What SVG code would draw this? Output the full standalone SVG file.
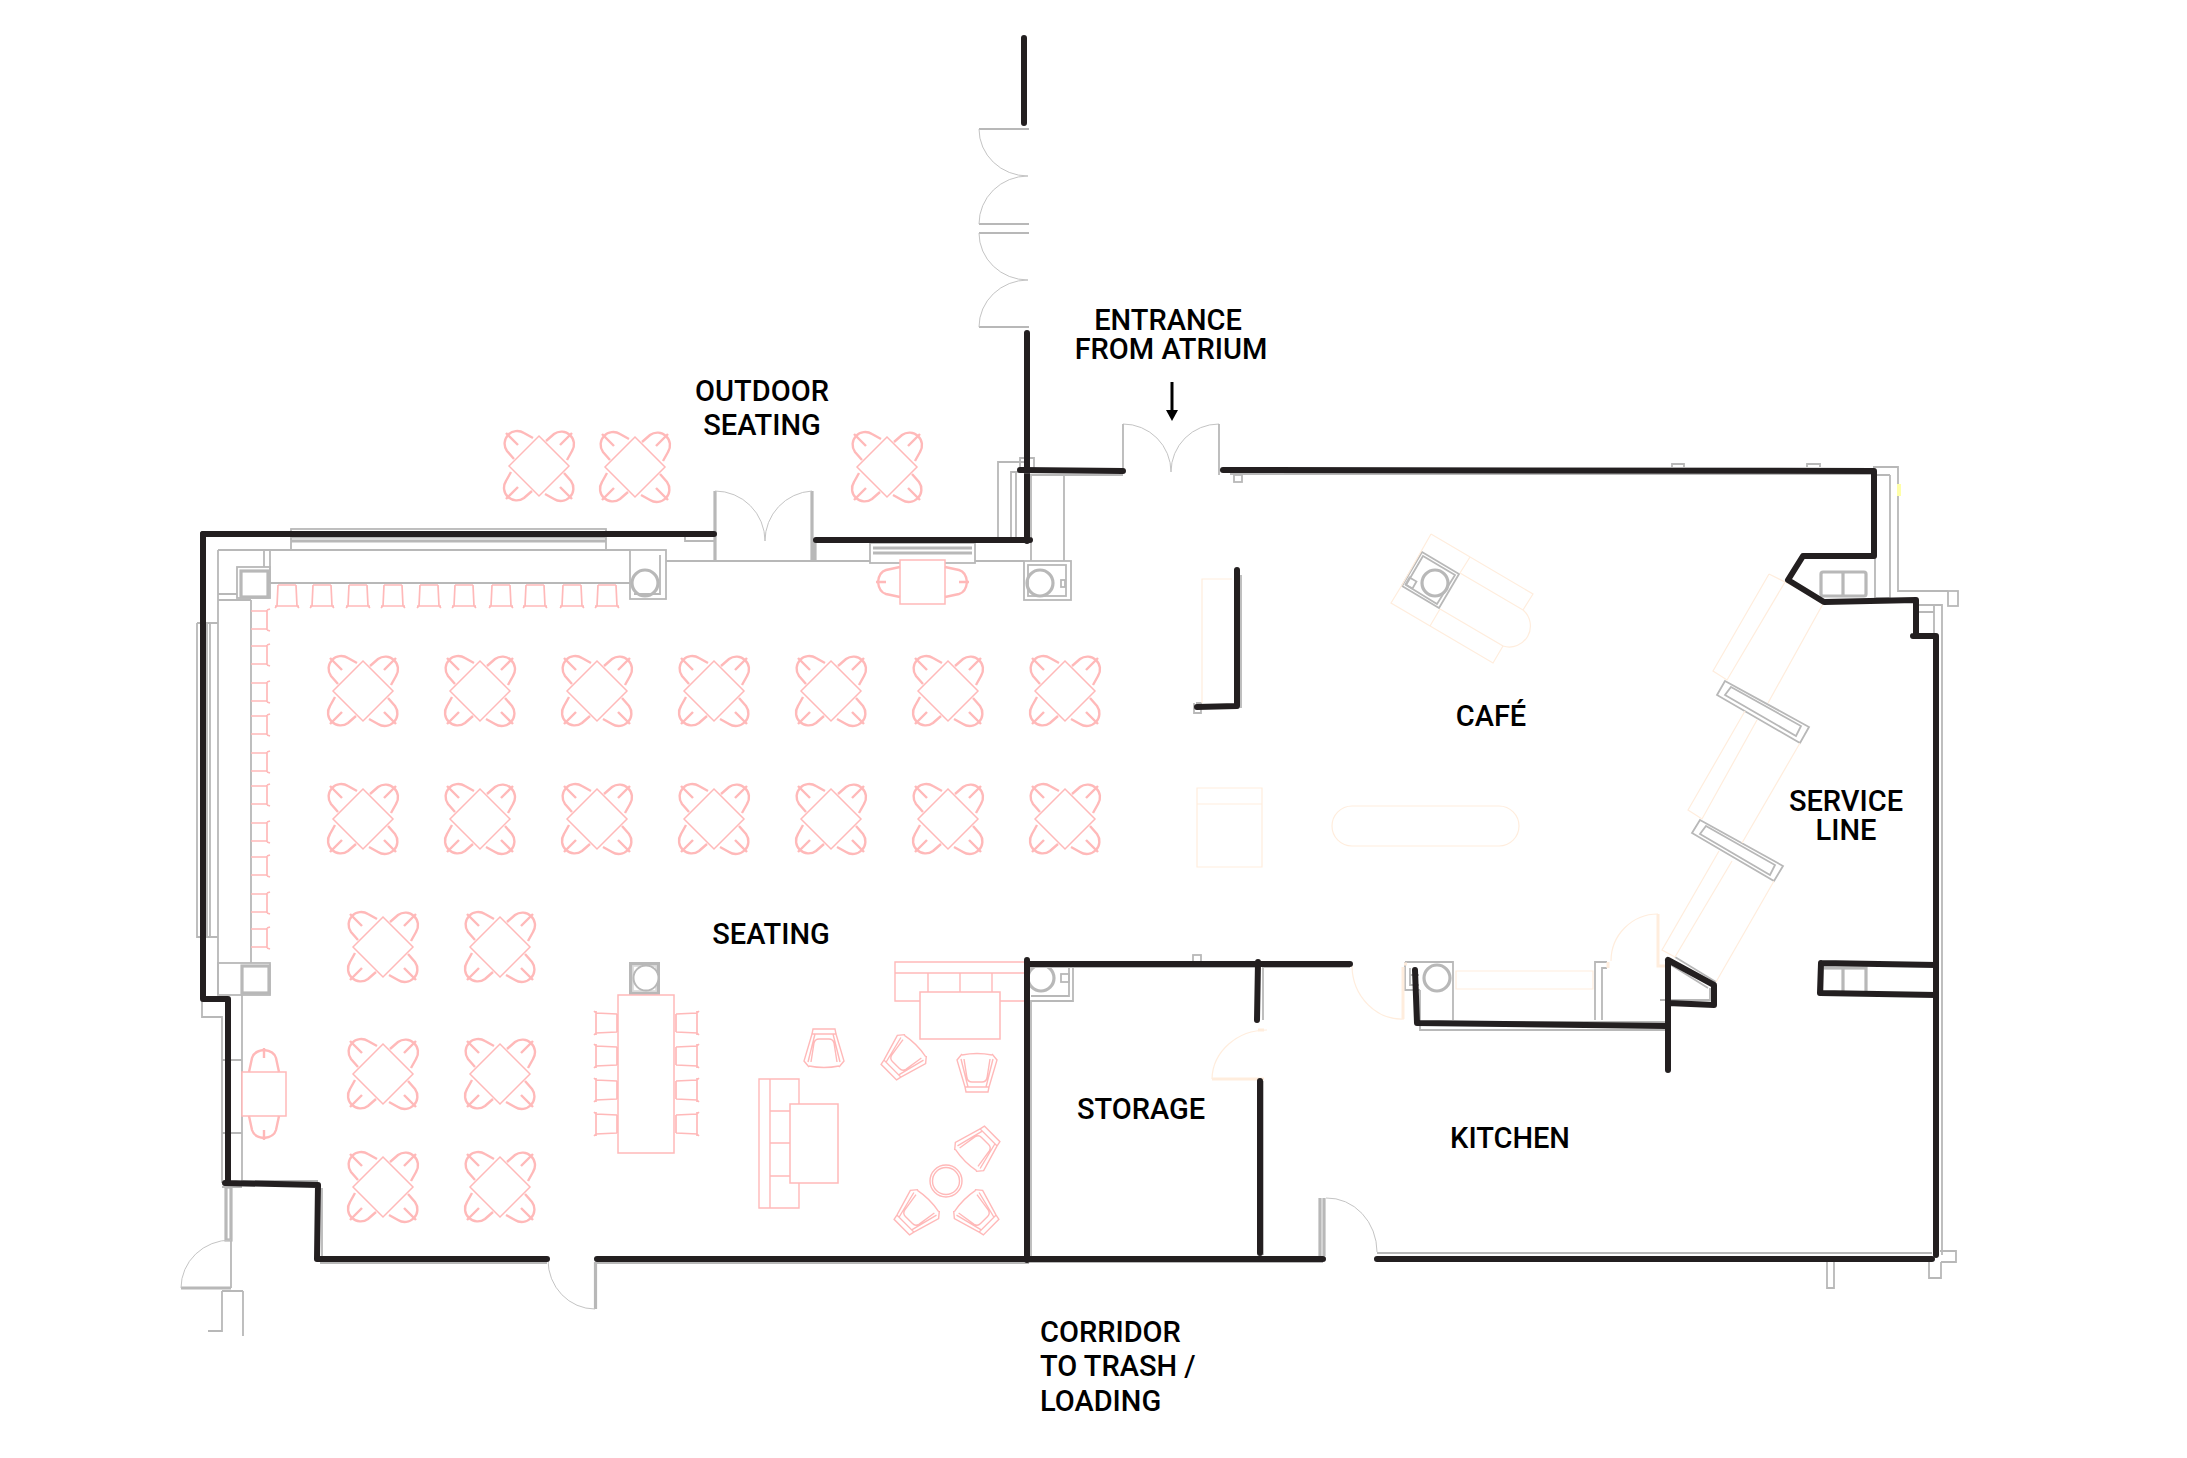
<svg xmlns="http://www.w3.org/2000/svg" xmlns:xlink="http://www.w3.org/1999/xlink" width="2187" height="1458" viewBox="0 0 2187 1458">
<style>
.w{fill:none;stroke:#231f20;stroke-width:6;stroke-linecap:round;stroke-linejoin:round}
.g{fill:none;stroke:#b8b8b8;stroke-width:1.8}
.gt{fill:none;stroke:#b8b8b8;stroke-width:3.2}
.gf{fill:#fff;stroke:#b8b8b8;stroke-width:1.8}
.a{fill:none;stroke:#c4c4c4;stroke-width:1}
.p{fill:none;stroke:#ffb9b9;stroke-width:1.4}
.pf{fill:#fff;stroke:#ffb9b9;stroke-width:1.5}
.pt{fill:none;stroke:#ffb9b9;stroke-width:2.4}
.ps{fill:none;stroke:#ffb9b9;stroke-width:1.7}
.o{fill:none;stroke:#ffeddd;stroke-width:1.2}
.ot{fill:none;stroke:#ffeddd;stroke-width:3}
text{font-family:Roboto,"Liberation Sans",sans-serif;font-weight:500;font-size:29px;fill:#000}
</style>
<defs>
<g id="q"><path class="pt" d="M-25,-7 L-32,-15 A12.600,12.600 0 0 1 -15,-33 L-6,-28"/><path class="pt" d="M-33,-33 L-21,-21"/></g>
<g id="t4"><use href="#q"/><use href="#q" transform="rotate(90)"/><use href="#q" transform="rotate(180)"/><use href="#q" transform="rotate(270)"/><path class="pf" d="M0,-30 L30,0 L0,30 L-30,0Z"/></g>
<g id="st"><path class="ps" d="M-9,-11 H9 M-12,10 H12 M-9,-11 L-10,10 L-12,12 M9,-11 L10,10 L12,12"/></g>
<g id="sl"><path class="ps" d="M-8,-9 H8 M-8,9 H8 M8,-10 V10 M8,-10 L11,-11 M8,10 L11,11"/></g>
<g id="sc"><path class="pt" d="M-15,0 L-12,-14 Q-10,-21 0,-22 Q10,-21 12,-14 L15,0 M0,-24 V-14"/></g>
<g id="ac"><path class="p" d="M-11,-20 H11 L12,-15 H-12Z M-12,-15 L-20,12 L-15,18 M12,-15 L20,12 L15,18 M-9,-15 L-16,13 M9,-15 L16,13 M-13,13 L-10,-6 Q-9,-10 -5,-10 H5 Q9,-10 10,-6 L13,13 M-15,17 Q0,20 15,17"/></g>
</defs>

<g id="plan-grey">
<rect class="g" x="291" y="529" width="315" height="21"/><path class="gt" d="M291,537 H606 M291,541 H606"/>
<path class="g" d="M218,550 H630 M218,550 V995 M264,550 V567 M270,550 V583 M270,583 H630 M251,600 V963 M218,594 H237 M218,600 H251 M197,623 H218 M197,623 V937 H218 M207,623 V937 M210,623 V937"/>
<rect class="g" x="237" y="567" width="33" height="31"/><rect class="gt" x="241" y="571" width="27" height="26"/>
<rect class="g" x="218" y="963" width="52" height="32"/><rect class="gt" x="242" y="966" width="27" height="27"/>
<path class="g" d="M202,999 V1017 H222 V1183 M242,995 V1183 M222,1060 H242 M222,1133 H242"/>
<rect class="gt" x="226" y="1187" width="5" height="53"/>
<path class="g" d="M231,1240 V1288 M222,1291 H243 M222,1291 V1331 H208 M243,1291 V1336"/><path class="gt" d="M181,1288 H231"/>
<path class="a" d="M231,1240 A50,48 0 0 0 181,1288"/>
<rect class="g" x="630" y="550" width="36" height="49"/><path class="g" d="M660,555 V594 H634"/><circle class="gt" cx="645" cy="583" r="13"/>
<path class="g" d="M666,561 H870 M975,561 H1024 M685,534 V541 H715"/>
<path class="gt" d="M715,491 V561 M812,491 V561 M815,541 V561"/>
<path class="a" d="M715,491 A50,50 0 0 1 765,541 A50,50 0 0 1 812,491"/>
<rect class="g" x="870" y="543" width="105" height="20"/><path class="gt" d="M873,548 H972 M873,553 H972"/>
<rect class="g" x="1024" y="561" width="47" height="39"/><rect class="g" x="1028" y="565" width="38" height="31"/><rect class="g" x="1061" y="580" width="4" height="7"/><circle class="gt" cx="1040" cy="583" r="13"/>
<path class="g" d="M1026,462 H998 V537 M1011,537 V472 H1026 M1016,537 V472 M1020,470 V458 H1034 V470 M1031,475 V561 M1064,475 V561 M1026,475 H1123"/>
<path class="a" d="M1123,424 A48,48 0 0 1 1171,472 A48,48 0 0 1 1219,424"/><path class="g" d="M1123,424 V470 M1219,424 V470 M1219,475 V470 H1240"/>
<rect class="g" x="1234" y="475" width="8" height="7"/>
<path class="g" d="M1230,474 H1873 M1672,467 V464 H1684 V467 M1807,467 V464 H1820 V467"/>
<path class="g" d="M979,129 H1029"/><path class="g" d="M979,224 H1029 M979,233 H1029 M979,327 H1029"/>
<path class="a" d="M979,129 A49,47 0 0 0 1028,176 A49,48 0 0 0 979,224 M979,233 A49,47 0 0 0 1028,280 A49,47 0 0 0 979,327"/>
<path class="g" d="M1873,467 H1898 V591 H1948 M1890,475 V598 H1875 V556 M1875,475 H1890"/>
<rect class="g" x="1948" y="591" width="10" height="15"/>
<path class="g" d="M1916,605 H1942 V1255 M1918,612 H1934 M1934,605 V636"/>
<rect x="1897" y="484" width="4" height="12" fill="#ffffa8"/>
<rect class="gt" x="1821" y="572" width="45" height="24" rx="2"/><path class="gt" d="M1843,572 V596"/>
<rect class="gt" x="1822" y="968" width="44" height="25"/><path class="gt" d="M1843,968 V993"/>
<path class="g" d="M1725,681 L1809,727 L1800,743 L1717,695 Z M1731,687 L1801,726 L1796,736 L1725,695Z"/>
<path class="g" d="M1700,820 L1783,866 L1774,881 L1692,833 Z M1706,826 L1775,865 L1770,875 L1700,834Z"/>
<path class="g" d="M1675,957 L1716,982"/>
<path class="g" d="M1666,963 V1003 M1666,1030 H1420 V990 M1660,1000 H1710 V988 M1671,965 L1708,988"/>
<path class="g" d="M1405,962 H1453 V1020 M1405,962 V990 H1420 M1410,968 V985 H1419 M1410,975 H1419 M1595,1020 V962 H1607 M1602,1020 V968 H1607 M1420,1022 H1666"/>
<circle class="gt" cx="1437" cy="978" r="13"/>
<path class="g" d="M1263,965 V1020 M1263,1081 V1255 M1031,1000 V1260 M1029,1262 H1323 M320,1263 H547 M597,1263 H1029 M322,1188 V1258 M242,1181 H318 M222,1187 H242 M1040,966 H1073 V1001 H1031 M1069,966 V996 H1031"/>
<path class="gt" d="M595.500,1262 V1309"/>
<path class="a" d="M548,1260 A47,49 0 0 0 595,1309"/>
<rect class="g" x="1061" y="974" width="8" height="8"/>
<circle class="gt" cx="1041" cy="978" r="13"/>
<rect class="g" x="1193" y="955" width="8" height="7"/>
<path class="g" d="M1026,967 H1258 M1262,967 H1350"/>
<path class="gt" d="M1320,1198 V1256 M1324,1198 V1256"/>
<path class="a" d="M1326,1198 A50,54 0 0 1 1377,1252"/><path class="g" d="M1377,1253 H1932"/>
<path class="g" d="M1827,1262 V1288 H1834 V1262 M1929,1262 V1278 H1941 V1262 M1940,1251 H1956 V1262 H1941"/>
<path class="g" d="M1196,703 H1201 V713 H1194 V703 M1241,575 V708"/>
<rect x="629" y="962" width="31" height="33" fill="#b8b8b8"/><rect x="633" y="966" width="23" height="25" class="gf" style="stroke:#ddd"/><circle cx="646" cy="978" r="12.500" fill="#fff" stroke="#b8b8b8" stroke-width="2"/>
<polygon class="g" points="1422,552 1459,574 1439,608 1402,586"/><polygon class="g" points="1423,556 1455,575 1437,604 1406,585"/><rect class="g" x="1407" y="579" width="8" height="8" transform="rotate(30 1411 583)"/><circle class="gt" cx="1435" cy="583" r="13"/>
</g>

<g id="plan-peach">
<path class="o" d="M1232,579 H1202 V703"/>
<path class="o" d="M1431,534 L1533,594 L1523,610 L1460,573 M1431,534 L1402,585 M1402,585 L1391,603 L1493,663 L1503,646 L1440,609 M1470,557 L1460,573 M1440,609 L1430,626 M1523,610 A21,21 0 0 1 1503,646"/>
<path class="o" d="M1197,788 H1262 V867 H1197 Z M1197,804 H1262"/>
<rect class="o" x="1332" y="806" width="187" height="40" rx="20"/>
<path class="o" d="M1769,574 L1713,671 L1727,680 L1785,582 M1769,574 L1785,582 L1824,602 L1768,703"/>
<path class="o" d="M1745,711 L1688,810 L1702,819 L1757,720 M1800,743 L1742,843"/>
<path class="o" d="M1719,851 L1662,950 L1675,957 L1732,861 M1774,881 L1716,982"/>
<path class="o" d="M1456,971 H1593 V989 H1456 Z M1611,961 A47,47 0 0 1 1658,914"/>
<path class="ot" d="M1658,914 V966 H1668 M1608,962 V968"/>
<path class="o" d="M1352,966 A50,54 0 0 0 1404,1019"/><path class="ot" d="M1403,1019 V967 M1404,964 H1407"/>
<path class="o" d="M1267,1030 A55,50 0 0 0 1212,1079"/><path class="ot" d="M1212,1079 H1264 M1258,1030 H1264"/>
</g>

<g id="plan-pink">
<use href="#t4" x="363" y="691"/><use href="#t4" x="480" y="691"/><use href="#t4" x="597" y="691"/><use href="#t4" x="714" y="691"/><use href="#t4" x="831" y="691"/><use href="#t4" x="948" y="691"/><use href="#t4" x="1065" y="691"/>
<use href="#t4" x="363" y="819"/><use href="#t4" x="480" y="819"/><use href="#t4" x="597" y="819"/><use href="#t4" x="714" y="819"/><use href="#t4" x="831" y="819"/><use href="#t4" x="948" y="819"/><use href="#t4" x="1065" y="819"/>
<use href="#t4" x="383" y="947"/><use href="#t4" x="500" y="947"/><use href="#t4" x="383" y="1074"/><use href="#t4" x="500" y="1074"/><use href="#t4" x="383" y="1187"/><use href="#t4" x="500" y="1187"/>
<use href="#t4" x="539" y="466"/><use href="#t4" x="635" y="467"/><use href="#t4" x="887" y="467"/>
<g id="stools-top"><use href="#st" x="287" y="596"/><use href="#st" x="322" y="596"/><use href="#st" x="358" y="596"/><use href="#st" x="393" y="596"/><use href="#st" x="429" y="596"/><use href="#st" x="464" y="596"/><use href="#st" x="501" y="596"/><use href="#st" x="535" y="596"/><use href="#st" x="572" y="596"/><use href="#st" x="607" y="596"/></g>
<g id="stools-left"><use href="#sl" x="259" y="620"/><use href="#sl" x="259" y="655"/><use href="#sl" x="259" y="692"/><use href="#sl" x="259" y="725"/><use href="#sl" x="259" y="762"/><use href="#sl" x="259" y="795"/><use href="#sl" x="259" y="832"/><use href="#sl" x="259" y="866"/><use href="#sl" x="259" y="903"/><use href="#sl" x="259" y="938"/></g>
<rect class="pf" x="900" y="560" width="45" height="44"/><use href="#sc" transform="translate(900,582) rotate(-90)"/><use href="#sc" transform="translate(945,582) rotate(90)"/>
<rect class="pf" x="242" y="1072" width="44" height="44"/><use href="#sc" x="264" y="1072"/><use href="#sc" transform="translate(264,1116) rotate(180)"/>
<rect class="pf" x="618" y="995" width="56" height="158"/>
<use href="#st" transform="translate(606,1023) rotate(90)"/><use href="#st" transform="translate(606,1056) rotate(90)"/><use href="#st" transform="translate(606,1090) rotate(90)"/><use href="#st" transform="translate(606,1124) rotate(90)"/>
<use href="#st" transform="translate(687,1023) rotate(-90)"/><use href="#st" transform="translate(687,1056) rotate(-90)"/><use href="#st" transform="translate(687,1090) rotate(-90)"/><use href="#st" transform="translate(687,1124) rotate(-90)"/>
<path class="p" d="M759,1079 H799 V1208 H759 Z M770,1079 V1208 M770,1111 H799 M770,1143 H799 M770,1176 H799"/>
<rect class="pf" x="790" y="1104" width="48" height="79"/>
<path class="p" d="M895,962 H1026 V1001 H895 Z M895,973 H1026 M928,973 V1001 M960,973 V1001 M992,973 V1001"/>
<rect class="pf" x="920" y="992" width="80" height="47"/>
<use href="#ac" transform="translate(824,1049)"/><use href="#ac" transform="translate(903,1058) rotate(225)"/><use href="#ac" transform="translate(977,1072) rotate(180)"/><use href="#ac" transform="translate(978,1148) rotate(45)"/><use href="#ac" transform="translate(916,1213) rotate(225)"/><use href="#ac" transform="translate(977,1213) rotate(135)"/>
<circle class="p" cx="946" cy="1181" r="16"/><circle class="p" cx="946" cy="1181" r="13.500"/>
</g>

<g id="walls">
<path class="w" d="M1024,38 V123 M1027,333 V541 M203,534 H714 M816,540 H1030 M1020,470 L1123,471 M1223,470 L1874,471 V556 H1803 L1788,580 L1824,602 L1916,600 V636 M1913,636 H1936 V1255"/>
<path class="w" d="M203,534 V999 H228 V1183 M225,1183 L318,1185 L317,1259 H547 M597,1259 H1323 M1377,1259 H1932"/>
<path class="w" d="M1027,960 V1260 M1027,964 H1350 M1258,962 L1257,1020 M1260,1081 V1253 M1415,970 L1417,1023 L1666,1026 M1668,960 V1070 M1668,960 L1714,985 V1005 L1668,1003 M1821,963 L1936,965 M1821,963 L1820,993 L1936,995 M1237,570 V706 L1197,707"/>
<path fill="none" stroke="#000" stroke-width="3" d="M1172,382 V412"/><polygon fill="#000" points="1166,410 1178,410 1172,421"/>
</g>

<g id="labels">
<text x="1168" y="330" text-anchor="middle">ENTRANCE</text><text x="1171" y="359" text-anchor="middle">FROM ATRIUM</text>
<text x="762" y="401" text-anchor="middle">OUTDOOR</text><text x="762" y="435" text-anchor="middle">SEATING</text>
<text x="1491" y="726" text-anchor="middle">CAFÉ</text>
<text x="771" y="944" text-anchor="middle">SEATING</text>
<text x="1846" y="811" text-anchor="middle">SERVICE</text><text x="1846" y="840" text-anchor="middle">LINE</text>
<text x="1141" y="1119" text-anchor="middle">STORAGE</text>
<text x="1510" y="1148" text-anchor="middle">KITCHEN</text>
<text x="1040" y="1342">CORRIDOR</text><text x="1040" y="1376">TO TRASH /</text><text x="1040" y="1411">LOADING</text>
</g>
</svg>
